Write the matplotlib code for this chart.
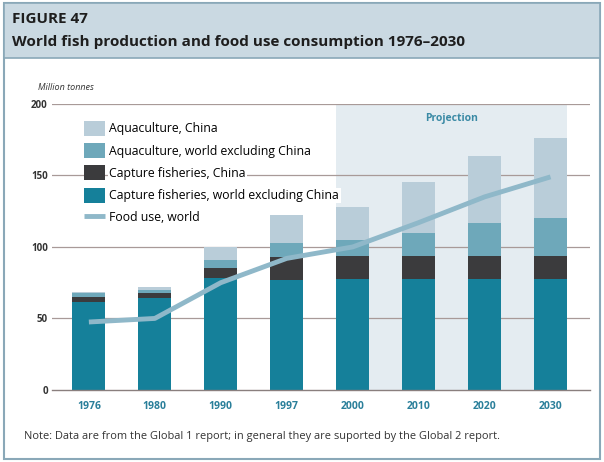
import numpy as np
import matplotlib
matplotlib.use('Agg')
from matplotlib import pyplot as plt
from matplotlib.patches import Rectangle

plt.rcParams['font.family'] = ['Open Sans', 'DejaVu Sans']

years = ['1976', '1980', '1990', '1997', '2000', '2010', '2020', '2030']
capture_world = [61.5, 64, 78, 77, 77.5, 77.5, 77.5, 77.5]
capture_china = [3.5, 4, 7, 16, 16.5, 16.5, 16.5, 16.5]
aqua_world = [3, 2, 6, 10, 11, 16, 23, 26]
aqua_china = [0.5, 2, 9, 19, 23, 35.5, 46.5, 56]
food_use = [47.5, 50, 75, 92, 100, 117, 135, 149]

series = [
    ('Capture fisheries, world excluding China', capture_world, '#15809a'),
    ('Capture fisheries, China', capture_china, '#3b3b3d'),
    ('Aquaculture, world excluding China', aqua_world, '#6ea8ba'),
    ('Aquaculture, China', aqua_china, '#b9cdd9'),
]

fig = plt.figure(figsize=(6.04, 4.62), dpi=100)
fig.patch.set_facecolor('white')

# frame and header band
fig.patches.append(Rectangle((0.006, 0.006), 0.988, 0.988, transform=fig.transFigure,
                             facecolor='white', edgecolor='#8aa8b8', lw=1.5, zorder=-2))
fig.patches.append(Rectangle((0.006, 0.875), 0.988, 0.119, transform=fig.transFigure,
                             facecolor='#cad9e2', edgecolor='#8aa8b8', lw=1.2, zorder=-1))
fig.text(0.02, 0.958, 'FIGURE 47', fontsize=11, fontweight='bold', color='#1e1e1e', va='center')
fig.text(0.02, 0.91, 'World fish production and food use consumption 1976\u20132030',
         fontsize=11, fontweight='bold', color='#1e1e1e', va='center')
fig.text(0.063, 0.81, 'Million tonnes', fontsize=6.5, style='italic', color='#333333', va='center')
fig.text(0.04, 0.055, 'Note: Data are from the Global 1 report; in general they are suported by the Global 2 report.',
         fontsize=7.9, color='#333333', va='center')

ax = fig.add_axes([0.086, 0.156, 0.891, 0.619])
x = np.arange(len(years))

ax.axvspan(3.75, 7.25, ymin=0, ymax=1, color='#e4ecf1', zorder=0, lw=0)
ax.text(5.5, 190, 'Projection', ha='center', va='center', fontsize=7.5, fontweight='bold', color='#3a8aa5')

for v in [50, 100, 150, 200]:
    ax.axhline(v, color='#a89a98', lw=0.9, zorder=1)

bottom = np.zeros(len(years))
handles = []
for name, vals, col in series:
    b = ax.bar(x, vals, 0.5, bottom=bottom, color=col, zorder=2, label=name)
    bottom += np.array(vals)
    handles.append(b)

line, = ax.plot(x, food_use, color='#8fb8c9', lw=3.5, zorder=3, label='Food use, world',
                solid_capstyle='butt')

order = [handles[3], handles[2], handles[1], handles[0], line]
leg = ax.legend(order, [h.get_label() for h in order], loc='upper left',
                bbox_to_anchor=(0.041, 0.975), prop={'size': 8.8}, frameon=False,
                handlelength=1.7, handleheight=1.5, labelspacing=0.6,
                borderpad=0.3, handletextpad=0.4)
leg.set_zorder(4)
for t in leg.get_texts():
    t.set_bbox(dict(facecolor='white', edgecolor='none', pad=1))

ax.set_xlim(-0.56, 7.6)
ax.set_ylim(0, 200)
ax.set_xticks(x)
ax.set_xticklabels(years, fontsize=7.5, fontweight='bold', color='#2a7f9a')
ax.set_yticks([0, 50, 100, 150, 200])
ax.set_yticklabels(['0', '50', '100', '150', '200'], fontsize=7, fontweight='bold', color='#333333')
ax.tick_params(axis='x', length=0, pad=8)
ax.tick_params(axis='y', length=0, pad=3)
for s in ['top', 'right', 'left']:
    ax.spines[s].set_visible(False)
ax.spines['bottom'].set_color('#8a7f7e')
ax.spines['bottom'].set_linewidth(1.0)
ax.set_facecolor('none')

fig.savefig('out.png', dpi=100)
